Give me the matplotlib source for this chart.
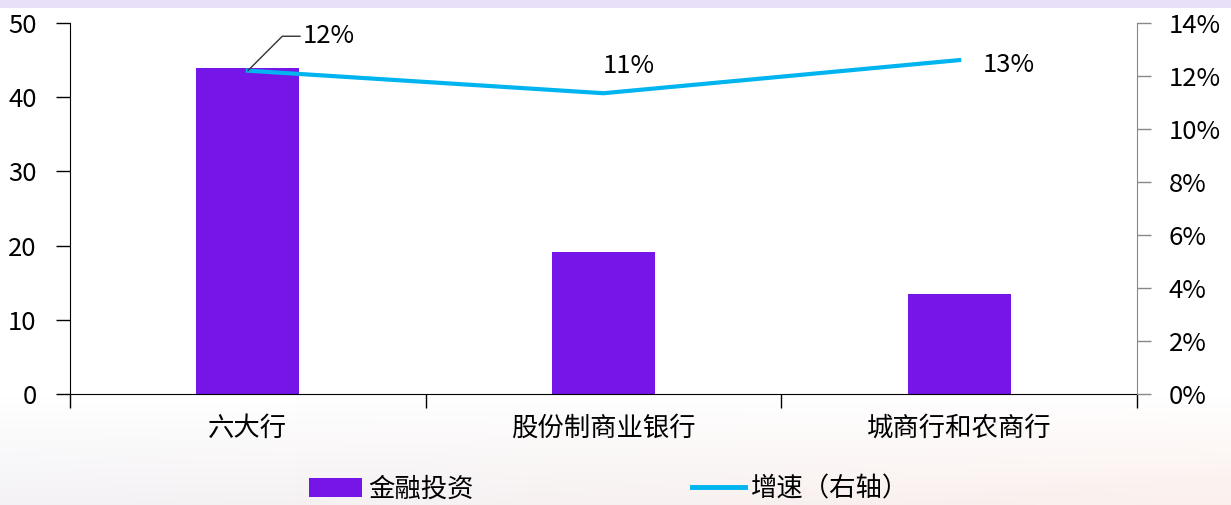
import numpy as np
import matplotlib
matplotlib.use("Agg")
import matplotlib.pyplot as plt
from matplotlib.lines import Line2D
from matplotlib.patches import Patch
from matplotlib.ticker import FuncFormatter

plt.rcParams['font.family'] = ['Noto Sans CJK SC', 'DejaVu Sans']

# Data
categories = ['六大行', '股份制商业银行', '城商行和农商行']
invest = [44.0, 19.2, 13.5]          # 金融投资 (left axis)
growth = [12.2, 11.35, 12.6]         # 增速 (%), right axis
growth_labels = ['12%', '11%', '13%']

BAR_COLOR = '#7515E8'
LINE_COLOR = '#00B4F0'
FS = 19
FS_NUM = 18.5

fig = plt.figure(figsize=(12.31, 5.05), dpi=100)

# Background: lavender strip on top, soft gradient at bottom
bg = fig.add_axes([0, 0, 1, 1], zorder=-10)
h, w = 505, 1231
img = np.ones((h, w, 3))
yy = np.arange(h)[:, None]
xx = np.arange(w)[None, :] / w
t = np.clip((yy - 395) / 110.0, 0, 1)
left_c = np.array([0.955, 0.948, 0.962])
right_c = np.array([0.985, 0.94, 0.925])
bottom_c = left_c[None, None, :] * (1 - xx[..., None]) + right_c[None, None, :] * xx[..., None]
img = img * (1 - t[..., None]) + bottom_c * t[..., None]
img[:8] = np.array([0.91, 0.88, 0.98])
bg.imshow(img, aspect='auto', extent=[0, 1, 0, 1], origin='upper')
bg.axis('off')

ax = fig.add_axes([70 / 1231, 1 - 394 / 505, 1067 / 1231, 371 / 505])
ax.set_facecolor('none')
x = np.arange(len(categories))
ax.bar(x, invest, width=0.29, color=BAR_COLOR, zorder=2)
ax.set_xlim(-0.5, len(categories) - 0.5)
ax.set_ylim(0, 50)
ax.set_yticks(range(0, 51, 10))
ax.set_xticks(x)
ax.set_xticklabels(categories, fontsize=FS)
ax.set_xticks(np.arange(-0.5, len(categories), 1), minor=True)
ax.tick_params(axis='x', which='major', length=0, pad=15)
ax.tick_params(axis='x', which='minor', length=10, direction='out', width=1, color='black')
ax.tick_params(axis='y', labelsize=FS_NUM, length=10, direction='out', width=1, pad=14)
for s in ['top', 'right']:
    ax.spines[s].set_visible(False)
ax.spines['left'].set_color('black')
ax.spines['bottom'].set_color('black')

ax2 = ax.twinx()
ax2.set_ylim(0, 14)
ax2.set_yticks(range(0, 15, 2))
ax2.yaxis.set_major_formatter(FuncFormatter(lambda v, p: f'{int(v)}%'))
ax2.tick_params(axis='y', labelsize=FS_NUM, length=10, direction='out', width=1, color='#888888', pad=13)
for s in ['top', 'left', 'bottom']:
    ax2.spines[s].set_visible(False)
ax2.spines['right'].set_color('#888888')
ax2.plot(x, growth, color=LINE_COLOR, lw=3, zorder=3)

# Data labels
ax2.annotate(growth_labels[0], xy=(x[0], growth[0]), xytext=(x[0] + 0.155, 13.5),
             fontsize=FS_NUM, va='center', ha='left',
             arrowprops=dict(arrowstyle='-', color='#333333', lw=1,
                             connectionstyle='angle,angleA=0,angleB=45,rad=0',
                             shrinkA=0, shrinkB=0))
ax2.text(x[1] + 0.07, 12.36, growth_labels[1], fontsize=FS_NUM, ha='center', va='center')
ax2.text(x[2] + 0.14, 12.42, growth_labels[2], fontsize=FS_NUM, ha='center', va='center')

handles = [Patch(facecolor=BAR_COLOR, edgecolor='none'),
           Line2D([0], [0], color=LINE_COLOR, lw=3.5)]
fig.legend(handles, ['金融投资', '增速（右轴）'], loc='center', bbox_to_anchor=(0.495, 1 - 489 / 505),
           ncol=2, frameon=False, fontsize=FS, handlelength=2.0, handletextpad=0.23,
           columnspacing=8.3)

fig.savefig('out.png', dpi=100)
